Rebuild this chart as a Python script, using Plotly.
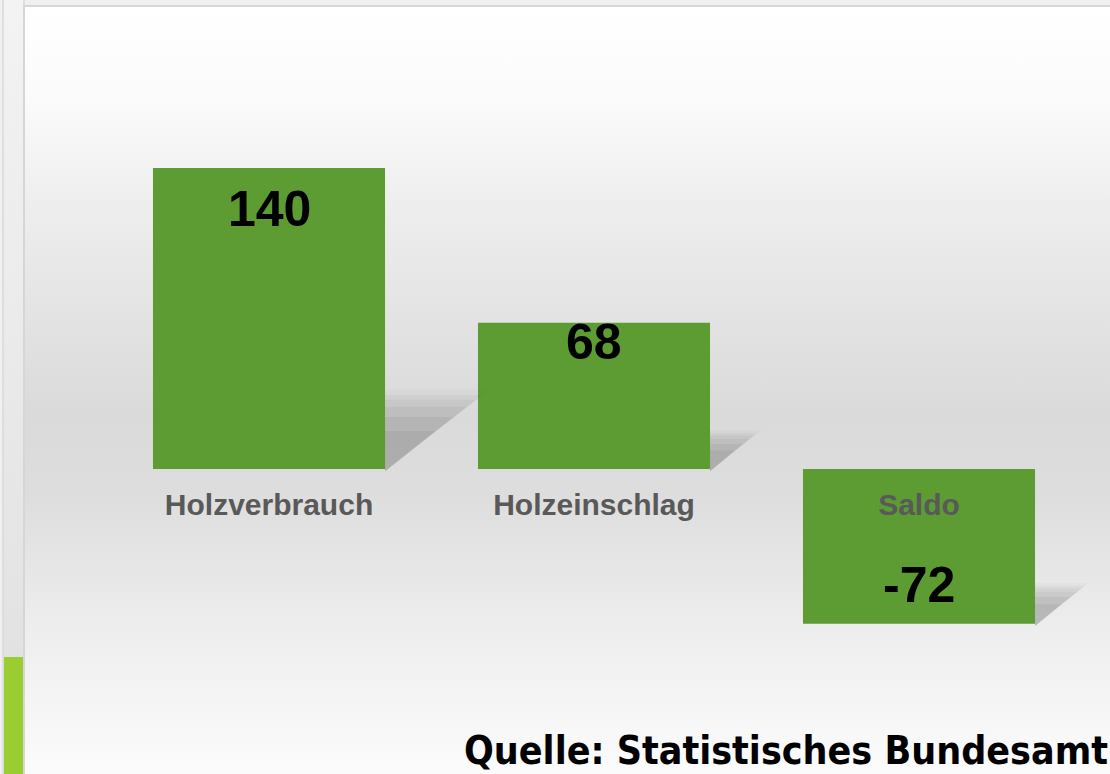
import base64
import plotly.graph_objects as go

categories = ["Holzverbrauch", "Holzeinschlag", "Saldo"]
values = [140, 68, -72]
value_labels = ["140", "68", "-72"]
source_text = "Quelle: Statistisches Bundesamt"

W, H = 1110, 774
x_index = list(range(len(categories)))
bar_width = 0.714
# axis ranges chosen so the bars land where they sit in the slide
x_range = [-269 / 325, (W - 269) / 325]
y_range = [-305 / 2.15, 469 / 2.15]
label_shift = [-41, -19, 39]

# slide frame + soft grey gradient behind the chart
bg_svg = f"""<svg xmlns='http://www.w3.org/2000/svg' width='{W}' height='{H}' viewBox='0 0 {W} {H}' preserveAspectRatio='none'>
<defs>
<linearGradient id='g' x1='0' y1='0' x2='0' y2='1'>
<stop offset='0' stop-color='#ffffff'/>
<stop offset='0.12' stop-color='#fbfbfb'/>
<stop offset='0.25' stop-color='#eeeeee'/>
<stop offset='0.52' stop-color='#dadada'/>
<stop offset='0.62' stop-color='#dddddd'/>
<stop offset='0.80' stop-color='#eeeeee'/>
<stop offset='1' stop-color='#fdfdfd'/>
</linearGradient>
<linearGradient id='c' x1='0' y1='0' x2='0' y2='1'>
<stop offset='0' stop-color='#f3f3f3'/>
<stop offset='1' stop-color='#dfdfdf'/>
</linearGradient>
</defs>
<rect width='{W}' height='{H}' fill='#f0f0f0'/>
<rect x='3' y='-2' width='21' height='{H + 4}' fill='url(#c)' stroke='#d9d9d9' stroke-width='1.5'/>
<rect x='4' y='657' width='19' height='{H - 657}' fill='#9acd32'/>
<rect x='24' y='6' width='{W + 10}' height='{H + 10}' fill='url(#g)' stroke='#d6d6d6' stroke-width='2'/>
</svg>"""
bg_uri = "data:image/svg+xml;base64," + base64.b64encode(bg_svg.encode()).decode()

fig = go.Figure()

# soft drop shadows: several stacked translucent triangles per bar
for i, v in zip(x_index, values):
    xr = i + bar_width / 2
    yb = min(v, 0)
    h = 0.23 * abs(v)
    dx = 0.002 * abs(v)
    for scale, alpha in [(1.15, 0.03), (1.07, 0.04), (1.0, 0.05), (0.9, 0.06), (0.75, 0.07), (0.55, 0.07)]:
        fig.add_trace(go.Scatter(
            x=[xr, xr, xr + dx * scale, xr],
            y=[yb - 1, yb + h * scale, yb + h * scale, yb - 1],
            fill="toself", mode="lines", line=dict(width=0),
            fillcolor=f"rgba(60,60,60,{alpha})",
            showlegend=False, hoverinfo="skip",
        ))

fig.add_trace(go.Bar(
    x=x_index, y=values, width=bar_width,
    marker=dict(color="#5d9b33", line=dict(width=0)),
    showlegend=False, hoverinfo="skip",
))

for i, v, t, dy in zip(x_index, values, value_labels, label_shift):
    fig.add_annotation(
        x=i, y=v, yshift=dy, text=t, showarrow=False,
        xanchor="center", yanchor="middle",
        font=dict(family="Liberation Sans", size=50, color="#000000", weight=700),
    )

fig.add_annotation(
    xref="paper", yref="paper", x=1.0, y=1 - 726 / H,
    xanchor="right", yanchor="top", text=source_text, showarrow=False,
    font=dict(family="DejaVu Sans Condensed, DejaVu Sans, sans-serif", size=39,
              color="#000000", weight=700),
)

fig.update_layout(
    width=W, height=H,
    margin=dict(l=0, r=0, t=0, b=0),
    paper_bgcolor="#f0f0f0", plot_bgcolor="rgba(0,0,0,0)",
    images=[dict(source=bg_uri, xref="paper", yref="paper", x=0, y=1,
                 sizex=1, sizey=1, sizing="stretch", layer="below")],
    xaxis=dict(
        range=x_range, tickvals=x_index, ticktext=categories,
        showgrid=False, zeroline=False, showline=False, ticks="",
        anchor="free", position=(0 - y_range[0]) / (y_range[1] - y_range[0]),
        ticklabelstandoff=15,
        tickfont=dict(family="Liberation Sans", size=30, color="#595959", weight=700),
    ),
    yaxis=dict(range=y_range, visible=False, showgrid=False, zeroline=False),
)

fig.write_html("out.html", config={"displayModeBar": False},
               post_script="document.body.style.margin='0';")
